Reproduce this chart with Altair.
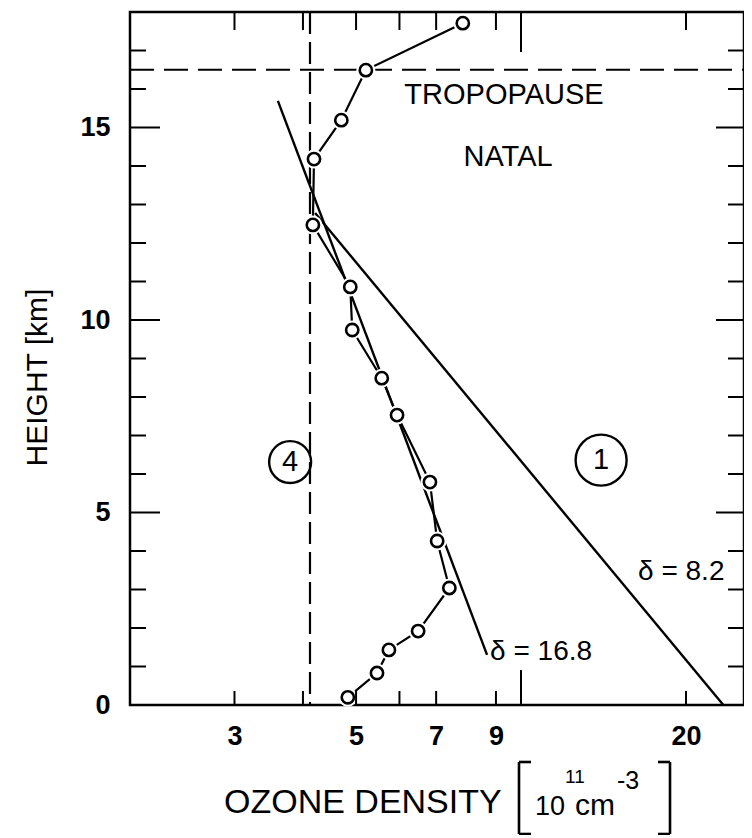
import altair as alt
import pandas as pd

# ---------------- data ----------------
# measured ozone profile (10^11 cm^-3) vs height (km)
ozone = [4.83, 5.46, 5.74, 6.49, 7.40, 7.03, 6.82, 5.94, 5.57, 4.92, 4.88, 4.17, 4.19, 4.70, 5.21, 7.83]
height = [0.20, 0.83, 1.43, 1.92, 3.04, 4.26, 5.79, 7.53, 8.49, 9.74, 10.86, 12.47, 14.18, 15.19, 16.49, 17.71]

# fitted exponential profiles (straight lines on the log axis)
fit1_ozone = [4.21, 23.4]      # delta = 8.2  (curve 1)
fit1_height = [12.78, 0.0]
fit2_ozone = [3.60, 8.67]      # delta = 16.8
fit2_height = [15.69, 1.30]

tropopause_height = [16.5]
curve4_ozone = [4.12]           # vertical dashed line (curve 4)

x_tick_labels = [3, 5, 7, 9, 20]
y_tick_labels = [0, 5, 10, 15]
x_minor_ticks = [3, 4, 5, 6, 7, 9, 20]
x_major_ticks = [10]
y_minor_ticks = [1, 2, 3, 4, 6, 7, 8, 9, 11, 12, 13, 14, 16, 17]
y_major_ticks = [5, 10, 15]

region_text = ["TROPOPAUSE", "NATAL"]
region_x = [9.31, 9.47]
region_y = [15.84, 14.23]

fit_text = ["δ = 8.2", "δ = 16.8"]
fit_x = [16.35, 8.78]          # left edge of each label
fit_y = [3.45, 1.38]

circ_text = ["4", "1"]
circ_x = [3.79, 14.0]
circ_y = [6.31, 6.36]

y_title = "HEIGHT [km]"
x_title_parts = ["OZONE DENSITY", "10", "11", "cm", "-3"]

# ---------------- layout ----------------
W, H = 614, 693
FONT = "Liberation Sans"
xs = alt.Scale(type="log", domain=[1.934, 25.52], nice=False)
ys = alt.Scale(domain=[0, 18], nice=False, zero=False)

prof = pd.DataFrame({"x": ozone, "y": height, "i": list(range(len(ozone)))})
fits = pd.DataFrame({
    "x": fit1_ozone + fit2_ozone,
    "y": fit1_height + fit2_height,
    "k": ["1"] * len(fit1_ozone) + ["2"] * len(fit2_ozone),
})

X = alt.X("x:Q", scale=xs, axis=alt.Axis(values=x_tick_labels, format="d", title=None,
                                          labelPadding=18, labelFontSize=27, labelFontWeight="bold"))
Y = alt.Y("y:Q", scale=ys, axis=alt.Axis(values=y_tick_labels, title=y_title,
                                          labelPadding=20, labelFontSize=27, labelFontWeight="bold",
                                          titleAngle=270, titleX=-93, titleY=365,
                                          titleAlign="center", titleBaseline="middle",
                                          titleFontSize=30, titleFontWeight="normal"))

profile_line = alt.Chart(prof).mark_line(color="black", strokeWidth=2.2).encode(x=X, y=Y, order="i:Q")
fit_lines = alt.Chart(fits).mark_line(color="black", strokeWidth=2.4).encode(x="x:Q", y="y:Q", detail="k:N")
halo = alt.Chart(prof).mark_point(shape="circle", filled=True, color="white", opacity=1, size=360).encode(x="x:Q", y="y:Q")
dots = alt.Chart(prof).mark_point(shape="circle", filled=False, color="black", opacity=1,
                                  size=150, strokeWidth=2.6).encode(x="x:Q", y="y:Q")

trop = alt.Chart(pd.DataFrame({"y": tropopause_height})).mark_rule(
    color="black", strokeWidth=2, strokeDash=[24, 10]).encode(y="y:Q", x=alt.value(0), x2=alt.value(W))
vert = alt.Chart(pd.DataFrame({"x": curve4_ozone})).mark_rule(
    color="black", strokeWidth=2.2, strokeDash=[22, 8]).encode(x="x:Q", y=alt.value(0), y2=alt.value(H))

def yticks(vals, x0, x1):
    return alt.Chart(pd.DataFrame({"y": vals})).mark_rule(color="black", strokeWidth=2).encode(
        y="y:Q", x=alt.value(x0), x2=alt.value(x1))

def xticks(vals, y0, y1):
    return alt.Chart(pd.DataFrame({"x": vals})).mark_rule(color="black", strokeWidth=2).encode(
        x="x:Q", y=alt.value(y0), y2=alt.value(y1))

ticks = [
    yticks(y_minor_ticks, 0, 16), yticks(y_major_ticks, 0, 30),
    yticks(y_minor_ticks, W, W - 16), yticks(y_major_ticks, W, W - 28),
    xticks(x_minor_ticks, H, H - 14), xticks(x_major_ticks, H, H - 35),
    xticks(x_minor_ticks, 0, 18), xticks(x_major_ticks, 0, 40),
]

regions = alt.Chart(pd.DataFrame({"x": region_x, "y": region_y, "t": region_text})).mark_text(
    font=FONT, fontSize=29, color="black").encode(x="x:Q", y="y:Q", text="t:N")
fitlab = alt.Chart(pd.DataFrame({"x": fit_x, "y": fit_y, "t": fit_text})).mark_text(
    font=FONT, fontSize=28, color="black", align="left").encode(x="x:Q", y="y:Q", text="t:N")

cdf = pd.DataFrame({"x": circ_x, "y": circ_y, "t": circ_text})
circ4 = alt.Chart(cdf.iloc[[0]]).mark_point(shape="circle", filled=False, color="black", opacity=1,
                                            size=1760, strokeWidth=2.4).encode(x="x:Q", y="y:Q")
circ1 = alt.Chart(cdf.iloc[[1]]).mark_point(shape="circle", filled=False, color="black", opacity=1,
                                            size=2600, strokeWidth=2.4).encode(x="x:Q", y="y:Q")
circ_lab = alt.Chart(cdf).mark_text(font=FONT, fontSize=29, color="black").encode(x="x:Q", y="y:Q", text="t:N")

one = pd.DataFrame({"a": [0]})
def label(txt, px, py, size, align="left"):
    return alt.Chart(one).mark_text(text=txt, font=FONT, fontSize=size, color="black",
                                    align=align, baseline="alphabetic").encode(
        x=alt.value(px), y=alt.value(py))

def seg(x0, y0, x1, y1):
    return alt.Chart(one).mark_rule(color="black", strokeWidth=2.6).encode(
        x=alt.value(x0), y=alt.value(y0), x2=alt.value(x1), y2=alt.value(y1))

xtitle = [
    label(x_title_parts[0], 94, 801, 34),
    label(x_title_parts[1], 405, 803, 27),
    label(x_title_parts[2], 435, 771, 19),
    label(x_title_parts[3], 445, 803, 30),
    label(x_title_parts[4], 487, 777, 25),
    # brackets
    seg(389, 750, 389, 822), seg(389, 750, 401, 750), seg(389, 822, 401, 822),
    seg(540, 750, 540, 822), seg(540, 750, 528, 750), seg(540, 822, 528, 822),
]

chart = alt.layer(
    profile_line, fit_lines, trop, vert, halo, dots, *ticks,
    regions, fitlab, circ4, circ1, circ_lab, *xtitle,
).properties(
    width=W, height=H,
    padding={"left": 122, "top": 4, "right": 0, "bottom": 130},
    autosize=alt.AutoSizeParams(type="none"),
).configure(background="white", font=FONT).configure_view(
    stroke="black", strokeWidth=2.5
).configure_axis(
    grid=False, ticks=False, domain=False, tickSize=0,
    labelColor="black", titleColor="black", labelFont=FONT, titleFont=FONT,
)

chart.save("out.html", embed_options={"renderer": "svg", "actions": False})
